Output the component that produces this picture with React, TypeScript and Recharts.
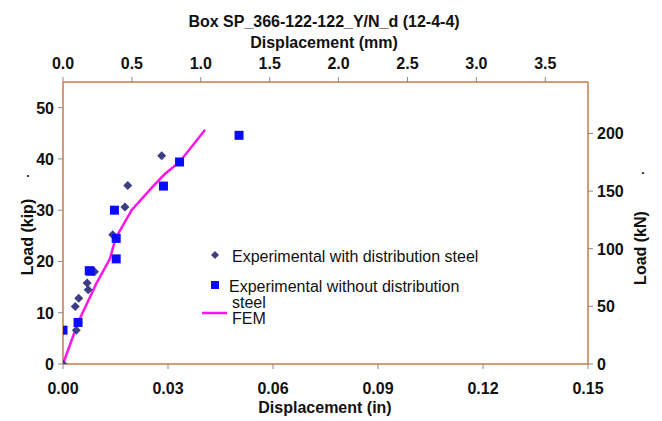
import { Scatter, ScatterChart, XAxis, YAxis } from 'recharts'

const FONT = '"Liberation Sans", Arial, sans-serif'
const AXIS_BROWN = '#c47a4c'
const TICK_GREY = '#8a8a8a'

// displacement (in) / load (kip)
const withSteelX = [0, 0.0038, 0.0035, 0.0045, 0.0069, 0.0072, 0.009, 0.0142, 0.0177, 0.0185, 0.0282]
const withSteelY = [0, 6.6, 11.2, 12.8, 15.8, 14.5, 18.0, 25.2, 30.6, 34.8, 40.6]

const withoutSteelX = [0, 0.0043, 0.0075, 0.0078, 0.0147, 0.0152, 0.0152, 0.0287, 0.0333, 0.0503]
const withoutSteelY = [6.6, 8.1, 18.2, 18.1, 30.0, 24.5, 20.5, 34.7, 39.4, 44.6]

const femX = [0, 0.0043, 0.0096, 0.0134, 0.015, 0.0196, 0.0255, 0.029, 0.0333, 0.0406]
const femY = [0, 8.1, 15.8, 20.5, 24.5, 30.0, 34.5, 37.0, 39.4, 45.7]

const inTicks = [0, 0.03, 0.06, 0.09, 0.12, 0.15]
const mmTicks = [0, 0.5, 1, 1.5, 2, 2.5, 3, 3.5]
const kipTicks = [0, 10, 20, 30, 40, 50]
const knTicks = [0, 50, 100, 150, 200]

const KIP_MAX = 55
const IN_MAX = 0.15

const zip = (xs: number[], ys: number[]) => xs.map((x, i) => ({ x, y: ys[i] }))

const withSteel = zip(withSteelX, withSteelY)
const withoutSteel = zip(withoutSteelX, withoutSteelY)
const fem = zip(femX, femY)
// anchors the secondary (mm / kN) axes so they get drawn
const secondaryAnchor = [{ x: 0, y: 0 }]

const LABEL_PROPS = { fill: '#111', fontSize: 16, fontWeight: 'bold', fontFamily: FONT }

const tickRenderer = (dx: number, dy: number, anchor: string, digits: number) => (props: any) => {
  const { x, y, payload } = props
  const v = Number(payload.value)
  return (
    <text x={x + dx} y={y + dy} textAnchor={anchor} {...LABEL_PROPS}>
      {digits < 0 ? String(v) : v.toFixed(digits)}
    </text>
  )
}

function Diamond(props: any) {
  const { cx, cy } = props
  const r = 4.5
  return <polygon points={`${cx},${cy - r} ${cx + r},${cy} ${cx},${cy + r} ${cx - r},${cy}`} fill="#3d3d86" />
}

function Square(props: any) {
  const { cx, cy } = props
  return <rect x={cx - 4.5} y={cy - 4.5} width={9} height={9} fill="#0a0aff" />
}

function NoDot() {
  return <g />
}

export default function App() {
  return (
    <div style={{ position: 'absolute', left: 0, top: 0, width: 662, height: 421, background: '#fff', fontFamily: FONT }}>
      <ScatterChart width={662} height={421} margin={{ top: 0, right: 0, bottom: 0, left: 0 }}>
        <XAxis
          xAxisId="in"
          type="number"
          dataKey="x"
          orientation="bottom"
          domain={[0, IN_MAX]}
          ticks={inTicks}
          height={57}
          tick={tickRenderer(0, 23, 'middle', 2)}
          tickSize={5}
          tickLine={{ stroke: TICK_GREY }}
          axisLine={{ stroke: AXIS_BROWN, strokeWidth: 1.5 }}
          allowDataOverflow
        />
        <XAxis
          xAxisId="mm"
          type="number"
          dataKey="x"
          orientation="top"
          domain={[0, IN_MAX * 25.4]}
          ticks={mmTicks}
          height={82}
          tick={tickRenderer(0, -6, 'middle', 1)}
          tickSize={5}
          tickLine={{ stroke: TICK_GREY }}
          axisLine={{ stroke: AXIS_BROWN, strokeWidth: 1.5 }}
          allowDataOverflow
        />
        <YAxis
          yAxisId="kip"
          type="number"
          dataKey="y"
          orientation="left"
          domain={[0, KIP_MAX]}
          ticks={kipTicks}
          width={63}
          tick={tickRenderer(-2, 6, 'end', -1)}
          tickSize={5}
          tickLine={{ stroke: TICK_GREY }}
          axisLine={{ stroke: AXIS_BROWN, strokeWidth: 1.5 }}
          allowDataOverflow
        />
        <YAxis
          yAxisId="kn"
          type="number"
          dataKey="y"
          orientation="right"
          domain={[0, KIP_MAX * 4.448]}
          ticks={knTicks}
          width={74}
          tick={tickRenderer(2, 6, 'start', -1)}
          tickSize={5}
          tickLine={{ stroke: TICK_GREY }}
          axisLine={{ stroke: AXIS_BROWN, strokeWidth: 1.5 }}
          allowDataOverflow
        />
        <Scatter data={secondaryAnchor} xAxisId="mm" yAxisId="kn" shape={NoDot} isAnimationActive={false} />
        <Scatter
          name="FEM"
          data={fem}
          xAxisId="in"
          yAxisId="kip"
          line={{ stroke: '#ff14e8', strokeWidth: 2.5 }}
          lineType="joint"
          shape={NoDot}
          isAnimationActive={false}
        />
        <Scatter
          name="Experimental with distribution steel"
          data={withSteel}
          xAxisId="in"
          yAxisId="kip"
          shape={Diamond}
          isAnimationActive={false}
        />
        <Scatter
          name="Experimental without distribution steel"
          data={withoutSteel}
          xAxisId="in"
          yAxisId="kip"
          shape={Square}
          isAnimationActive={false}
        />
      </ScatterChart>

      <svg width={662} height={421} style={{ position: 'absolute', left: 0, top: 0, pointerEvents: 'none' }}>
        <g fontFamily={FONT} fill="#111">
          <text x={324} y={27} textAnchor="middle" fontSize={16} fontWeight="bold">Box SP_366-122-122_Y/N_d (12-4-4)</text>
          <text x={324} y={48} textAnchor="middle" fontSize={16} fontWeight="bold">Displacement (mm)</text>
          <text x={325} y={413} textAnchor="middle" fontSize={16} fontWeight="bold">Displacement (in)</text>
          <text transform="translate(33,237) rotate(-90)" textAnchor="middle" fontSize={16} fontWeight="bold">Load (kip)</text>
          <text x={28} y={177} textAnchor="middle" fontSize={12} fontWeight="bold">.</text>
          <text transform="translate(646,248) rotate(-90)" textAnchor="middle" fontSize={16} fontWeight="bold">Load (kN)</text>
          <text x={643} y={174} textAnchor="middle" fontSize={12} fontWeight="bold">.</text>

          <polygon points="215,251 219,255 215,259 211,255" fill="#3d3d86" />
          <text x={232} y={262} fontSize={16}>Experimental with distribution steel</text>
          <rect x={211} y={281} width={8} height={8} fill="#0a0aff" />
          <text x={229} y={292} fontSize={16}>Experimental without distribution</text>
          <text x={232} y={308} fontSize={16}>steel</text>
          <line x1={202} y1={313} x2={227} y2={313} stroke="#ff14e8" strokeWidth={2.5} />
          <text x={232} y={324} fontSize={16}>FEM</text>
        </g>
      </svg>
    </div>
  )
}
